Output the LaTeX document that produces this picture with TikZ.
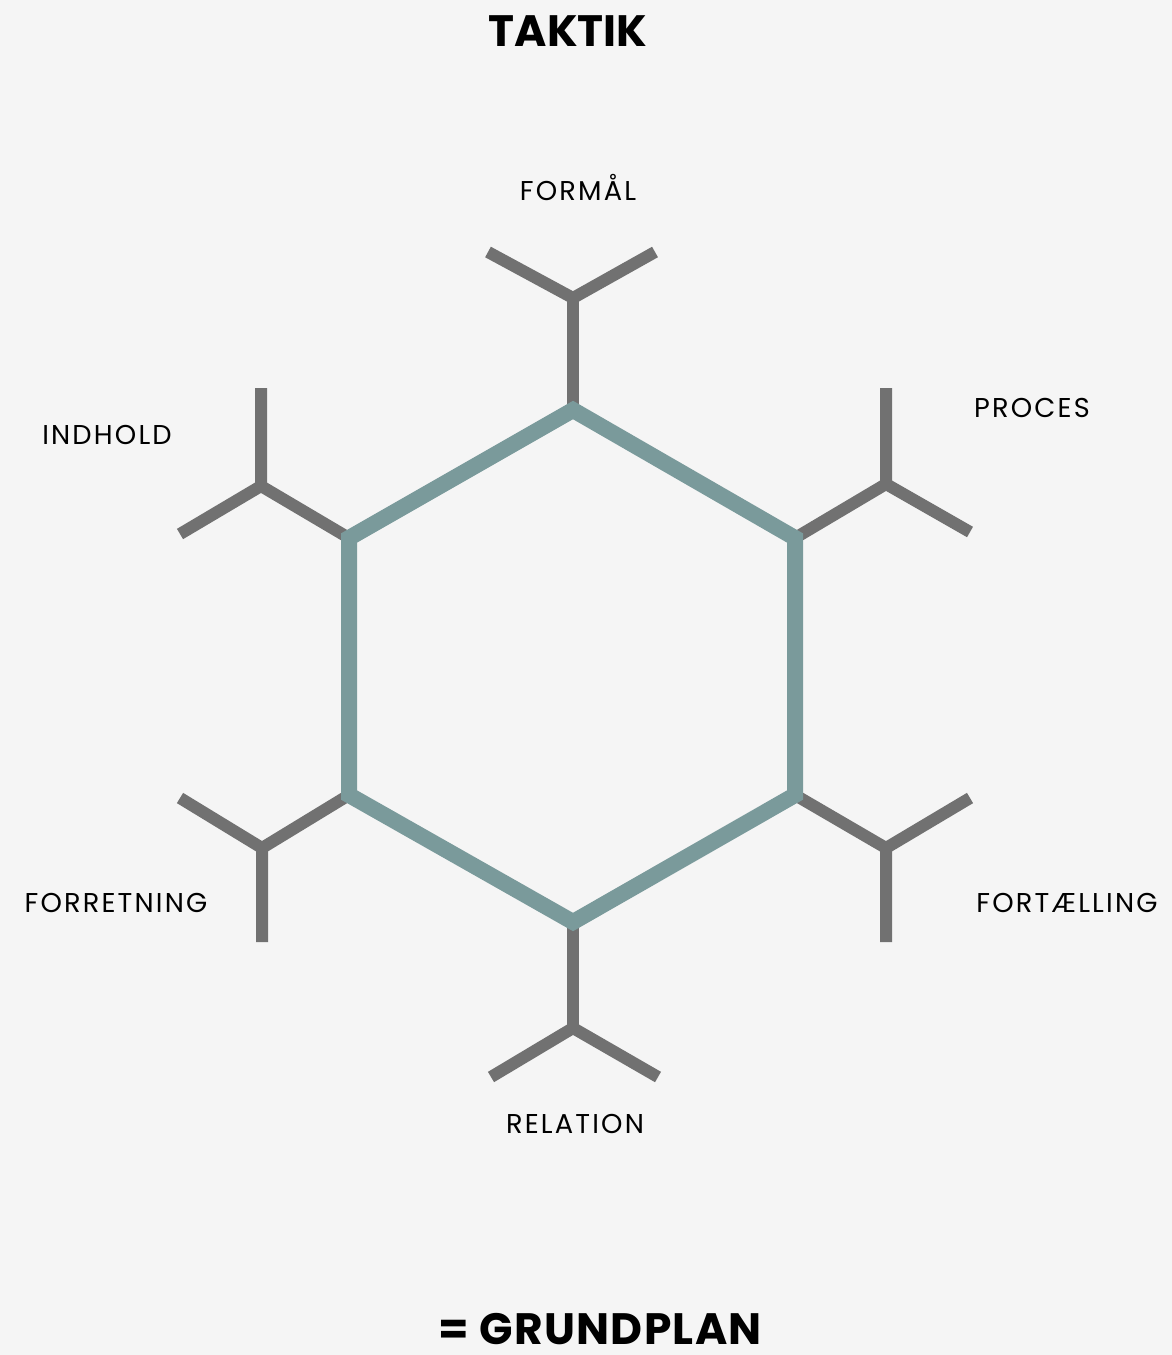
\documentclass[tikz,border=0pt]{standalone}
\usepackage{fontspec}
\setmainfont{Poppins}
\definecolor{hexteal}{RGB}{122,154,155}
\definecolor{armgray}{RGB}{113,113,113}
\definecolor{bggray}{RGB}{245,245,245}
\tikzset{
  hexline/.style={line width=16*0.02cm, hexteal, line join=miter},
  armline/.style={line width=12*0.02cm, armgray, line cap=butt},
  lbl/.style={font=\fontsize{15.5}{18}\selectfont\addfontfeature{LetterSpace=8}, text=black, inner sep=0pt},
  ttl/.style={font=\bfseries\fontsize{25}{30}\selectfont, text=black, inner sep=0pt}
}
\begin{document}
\begin{tikzpicture}[x=0.02cm,y=-0.02cm]
        \fill[bggray] (0,0) rectangle (1172,1355);
        \useasboundingbox (0,0) rectangle (1172,1355);
        % hexagon corners
        \coordinate (top) at (573,410);
        \coordinate (ur) at (795,538);
        \coordinate (lr) at (795,795);
        \coordinate (bot) at (573,922);
        \coordinate (ll) at (349,795);
        \coordinate (ul) at (349,538);
        % junctions
        \coordinate (jtop) at (573,298);
        \coordinate (jur) at (886,484);
        \coordinate (jlr) at (886,848);
        \coordinate (jbot) at (573,1028);
        \coordinate (jll) at (262,848);
        \coordinate (jul) at (261,486);
        % arms
        \draw[armline] (top) -- (jtop);
        \draw[armline] (488,252) -- (jtop) -- (655,252);
        \draw[armline] (ur) -- (jur);
        \draw[armline] (886,388) -- (jur) -- (970,532);
        \draw[armline] (lr) -- (jlr);
        \draw[armline] (970,798) -- (jlr) -- (886,942);
        \draw[armline] (bot) -- (jbot);
        \draw[armline] (491,1077) -- (jbot) -- (658,1077);
        \draw[armline] (ll) -- (jll);
        \draw[armline] (180,798) -- (jll) -- (262,942);
        \draw[armline] (ul) -- (jul);
        \draw[armline] (261,388) -- (jul) -- (180,534);
        \draw[hexline] (top) -- (ur) -- (lr) -- (bot) -- (ll) -- (ul) -- cycle;
        % labels
        \node[ttl] (taktik) at (568,31) {TAKTIK};
        \node[lbl] (formaal) at (578,187) {FORMÅL};
        \node[lbl] (proces) at (1032,408) {PROCES};
        \node[lbl] (indhold) at (107,435) {INDHOLD};
        \node[lbl] (forretning) at (116,903) {FORRETNING};
        \node[lbl] (fortaelling) at (1067,903) {FORTÆLLING};
        \node[lbl] (relation) at (575,1124) {RELATION};
        \node[ttl, font=\bfseries\fontsize{25}{30}\selectfont\addfontfeature{LetterSpace=3}] (grundplan) at (600,1329) {= GRUNDPLAN};
    \end{tikzpicture}
\end{document}
